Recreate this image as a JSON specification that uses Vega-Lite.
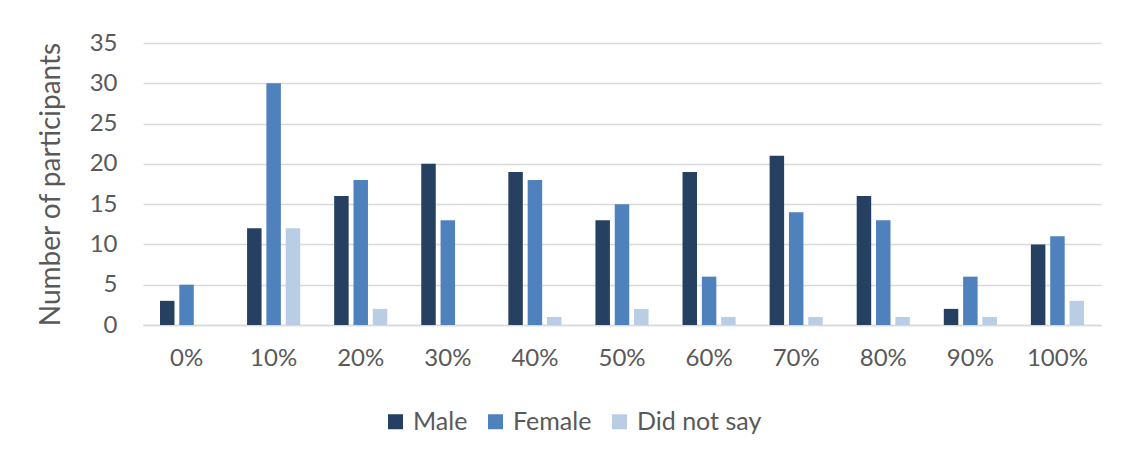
{
  "$schema": "https://vega.github.io/schema/vega-lite/v6.json",
  "autosize": {"type": "none"},
  "width": 958,
  "height": 282,
  "padding": {"left": 143, "top": 43, "right": 29, "bottom": 134},
  "background": "white",
  "data": {
    "values": [
      {"share": "0%", "gender": "Male", "count": 3},
      {"share": "0%", "gender": "Female", "count": 5},
      {"share": "0%", "gender": "Did not say", "count": 0},
      {"share": "10%", "gender": "Male", "count": 12},
      {"share": "10%", "gender": "Female", "count": 30},
      {"share": "10%", "gender": "Did not say", "count": 12},
      {"share": "20%", "gender": "Male", "count": 16},
      {"share": "20%", "gender": "Female", "count": 18},
      {"share": "20%", "gender": "Did not say", "count": 2},
      {"share": "30%", "gender": "Male", "count": 20},
      {"share": "30%", "gender": "Female", "count": 13},
      {"share": "30%", "gender": "Did not say", "count": 0},
      {"share": "40%", "gender": "Male", "count": 19},
      {"share": "40%", "gender": "Female", "count": 18},
      {"share": "40%", "gender": "Did not say", "count": 1},
      {"share": "50%", "gender": "Male", "count": 13},
      {"share": "50%", "gender": "Female", "count": 15},
      {"share": "50%", "gender": "Did not say", "count": 2},
      {"share": "60%", "gender": "Male", "count": 19},
      {"share": "60%", "gender": "Female", "count": 6},
      {"share": "60%", "gender": "Did not say", "count": 1},
      {"share": "70%", "gender": "Male", "count": 21},
      {"share": "70%", "gender": "Female", "count": 14},
      {"share": "70%", "gender": "Did not say", "count": 1},
      {"share": "80%", "gender": "Male", "count": 16},
      {"share": "80%", "gender": "Female", "count": 13},
      {"share": "80%", "gender": "Did not say", "count": 1},
      {"share": "90%", "gender": "Male", "count": 2},
      {"share": "90%", "gender": "Female", "count": 6},
      {"share": "90%", "gender": "Did not say", "count": 1},
      {"share": "100%", "gender": "Male", "count": 10},
      {"share": "100%", "gender": "Female", "count": 11},
      {"share": "100%", "gender": "Did not say", "count": 3}
    ]
  },
  "mark": {"type": "bar"},
  "encoding": {
    "x": {
      "field": "share",
      "type": "nominal",
      "sort": null,
      "scale": {"paddingInner": 0.39, "paddingOuter": 0.195},
      "axis": {
        "title": null,
        "labelAngle": 0,
        "labelFontSize": 24,
        "labelPadding": 21,
        "ticks": false,
        "domain": true,
        "domainColor": "#d9d9d9",
        "domainWidth": 1.5,
        "grid": false
      }
    },
    "xOffset": {
      "field": "gender",
      "type": "nominal",
      "sort": ["Male", "Female", "Did not say"],
      "scale": {"paddingInner": 0.25, "paddingOuter": 0}
    },
    "y": {
      "field": "count",
      "type": "quantitative",
      "scale": {"domain": [0, 35]},
      "axis": {
        "title": "Number of participants",
        "titleFontSize": 28,
        "titleFontWeight": "normal",
        "titleColor": "#595959",
        "titlePadding": 24,
        "values": [0, 5, 10, 15, 20, 25, 30, 35],
        "labelFontSize": 24,
        "labelPadding": 26,
        "ticks": false,
        "domain": false,
        "grid": true,
        "gridColor": "#d9d9d9",
        "gridWidth": 1.5
      }
    },
    "color": {
      "field": "gender",
      "type": "nominal",
      "sort": ["Male", "Female", "Did not say"],
      "scale": {
        "domain": ["Male", "Female", "Did not say"],
        "range": ["#264061", "#4f81bd", "#b9cde5"]
      },
      "legend": {
        "title": null,
        "orient": "none",
        "direction": "horizontal",
        "legendX": 240,
        "legendY": 366,
        "symbolType": "square",
        "symbolSize": 225,
        "symbolStrokeWidth": 0,
        "labelFontSize": 25,
        "labelColor": "#595959",
        "labelOffset": 5,
        "columnPadding": 15
      }
    }
  },
  "config": {
    "font": "Lato",
    "view": {"stroke": null},
    "axis": {"labelColor": "#595959", "labelFont": "Lato", "titleFont": "Lato"},
    "legend": {"labelFont": "Lato"}
  }
}
